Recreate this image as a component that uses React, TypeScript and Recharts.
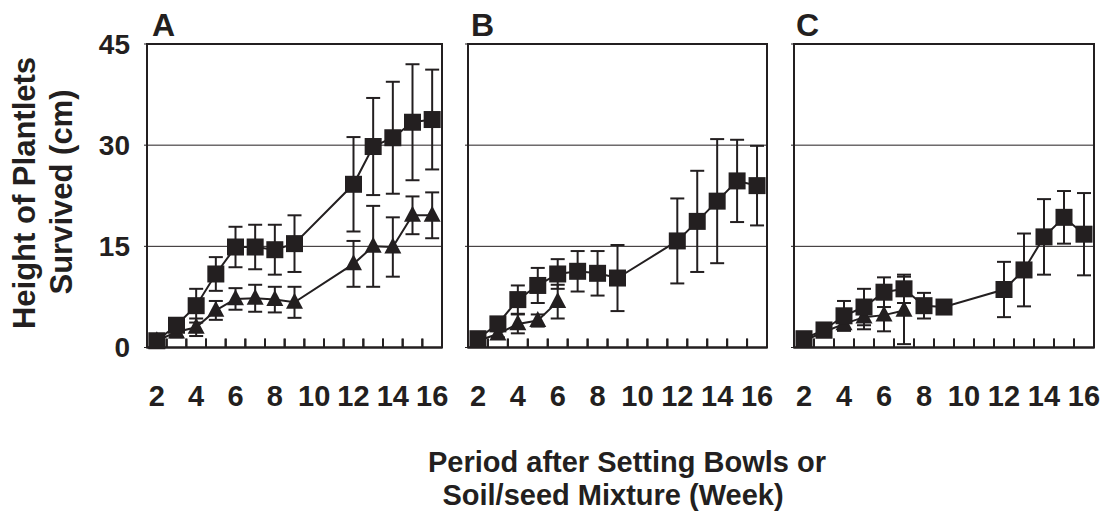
import React from 'react';
import { LineChart, Line, XAxis, YAxis, CartesianGrid, ErrorBar, ReferenceArea } from 'recharts';

const W = 1106;
const H = 513;
const INK = '#231f20';
const FONT = '"Liberation Sans", Arial, Helvetica, sans-serif';

// x categories (weeks) and ticks
const weeksSquare = [2, 3, 4, 5, 6, 7, 8, 9, 12, 13, 14, 15, 16];
const labelTicks = [2, 4, 6, 8, 10, 12, 14, 16];
const boundaryTicks = [2.5, 3.5, 4.5, 5.5, 6.5, 7.5, 8.5, 9.5, 10.5, 11.5, 12.5, 13.5, 14.5, 15.5];
const yTicks = [0, 15, 30, 45];
const X_DOMAIN: [number, number] = [1.5, 16.5];

// Panel A
const aSquare = [1.0, 3.3, 6.2, 10.9, 14.9, 14.9, 14.5, 15.4, 24.2, 29.8, 31.1, 33.4, 33.8];
const aSquareErr = [0.6, 0.8, 2.5, 2.5, 3.0, 3.3, 3.7, 4.2, 7.0, 7.2, 8.3, 8.6, 7.4];
const aTriWeeks = [2, 3, 4, 5, 6, 7, 8, 9, 12, 13, 14, 15, 16];
const aTri = [1.0, 2.3, 3.0, 5.5, 7.2, 7.3, 7.1, 6.7, 12.4, 15.0, 14.9, 19.6, 19.6];
const aTriErr = [0.5, 0.8, 1.3, 1.4, 1.6, 2.0, 1.9, 2.3, 3.4, 6.0, 4.4, 2.8, 3.4];

// Panel B
const bSquare = [1.3, 3.5, 7.1, 9.2, 10.9, 11.3, 11.0, 10.3, 15.8, 18.7, 21.7, 24.7, 24.0];
const bSquareErr = [0.5, 0.8, 2.1, 2.6, 2.2, 3.0, 3.3, 4.9, 6.3, 7.5, 9.2, 6.1, 5.9];
const bTriWeeks = [2, 3, 4, 5, 6];
const bTri = [1.0, 2.0, 3.5, 4.0, 6.8];
const bTriErr = [0.5, 0.5, 1.4, 0.9, 2.5];

// Panel C
const cSquare = [1.3, 2.6, 4.7, 6.0, 8.2, 8.7, 6.2, 6.0, 8.6, 11.5, 16.4, 19.3, 16.8];
const cSquareErr = [0.5, 0.6, 2.2, 2.7, 2.2, 2.1, 1.9, 0.5, 4.1, 5.4, 5.6, 3.9, 6.1];
const cTriWeeks = [2, 3, 4, 5, 6, 7];
const cTri = [1.0, 2.3, 3.5, 4.5, 4.8, 5.5];
const cTriErr = [0.4, 0.6, 1.0, 1.8, 2.4, 5.0];

// inward tick marks at band boundaries: from 0 up by about 8px (in y units)
const tickMarkData = boundaryTicks.map((t) => ({ week: t, v: 0, e: [0, 1.3] }));

const X_TICK_SIZE = 6;
const X_TICK_MARGIN = 32;
const INNER_TICK_PX = 9;

const renderSquare = (p: any) => {
  const { cx, cy, index } = p;
  if (cx == null || cy == null) return <g key={`s${index}`} />;
  const s = 17;
  return <rect key={`s${index}`} x={cx - s / 2} y={cy - s / 2} width={s} height={s} fill={INK} />;
};

const renderTriangle = (p: any) => {
  const { cx, cy, index } = p;
  if (cx == null || cy == null) return <g key={`t${index}`} />;
  const b = 17;
  const h = 16;
  const pts = `${cx},${cy - h * 0.6} ${cx - b / 2},${cy + h * 0.4} ${cx + b / 2},${cy + h * 0.4}`;
  return <polygon key={`t${index}`} points={pts} fill={INK} />;
};

// x tick: the even-week label, plus the inward tick marks of the band boundaries on either side
const XTick = (props: any) => {
  const { x, y, payload, width } = props;
  const v = Number(payload?.value);
  const axisY = y - X_TICK_SIZE - X_TICK_MARGIN;
  const pxPerWeek = typeof width === 'number' && width > 0 ? width / (X_DOMAIN[1] - X_DOMAIN[0]) : NaN;
  const marks: number[] = [];
  if (Number.isFinite(pxPerWeek)) {
    [v - 0.5, v + 0.5].forEach((b) => {
      if (boundaryTicks.includes(b)) marks.push(x + (b - v) * pxPerWeek);
    });
  }
  return (
    <g>
      {marks.map((mx, i) => (
        <line key={i} x1={mx} x2={mx} y1={axisY} y2={axisY - INNER_TICK_PX} stroke={INK} strokeWidth={2} />
      ))}
      <text x={x} y={y} dy="0.71em" textAnchor="middle" fill={INK} fontSize={29} fontWeight="bold" fontFamily={FONT}>
        {payload?.value}
      </text>
    </g>
  );
};

const emptyTick = () => <g />;

type PanelProps = {
  left: number;
  right: number;
  showY: boolean;
  sq: number[];
  sqErr: number[];
  triWeeks: number[];
  tri: number[];
  triErr: number[];
};

const PLOT_TOP = 44;
const PLOT_BOTTOM = 347.5;
const Y_AXIS_W = 60;
const X_AXIS_H = 1;

function Panel({ left, right, showY, sq, sqErr, triWeeks, tri, triErr }: PanelProps) {
  const sqData = weeksSquare.map((w, i) => ({ week: w, v: sq[i], e: sqErr[i] }));
  const triData = triWeeks.map((w, i) => ({ week: w, v: tri[i], e: triErr[i] }));
  return (
    <div style={{ position: 'absolute', left: 0, top: 0, width: W, height: H }}>
      <LineChart
        width={W}
        height={H}
        margin={{ top: PLOT_TOP, bottom: H - PLOT_BOTTOM - X_AXIS_H, left: left - Y_AXIS_W, right: W - right }}
      >
        <CartesianGrid vertical={false} stroke={INK} strokeWidth={1} xAxisId="lab" />
        <XAxis
          xAxisId="lab"
          type="number"
          dataKey="week"
          domain={X_DOMAIN}
          ticks={labelTicks}
          interval={0}
          height={X_AXIS_H}
          tickLine={false}
          axisLine={{ stroke: INK, strokeWidth: 2 }}
          tickSize={X_TICK_SIZE}
          tickMargin={X_TICK_MARGIN}
          tick={<XTick />}
        />
        <YAxis
          type="number"
          domain={[0, 45]}
          ticks={yTicks}
          interval={0}
          width={Y_AXIS_W}
          tickSize={3}
          tickMargin={14}
          tick={showY ? { fill: INK, fontSize: 28, fontWeight: 'bold', fontFamily: FONT } : emptyTick}
          axisLine={{ stroke: INK, strokeWidth: 2 }}
          tickLine={{ stroke: INK, strokeWidth: 1 }}
        />
        <ReferenceArea
          xAxisId="lab"
          x1={X_DOMAIN[0]}
          x2={X_DOMAIN[1]}
          y1={0}
          y2={45}
          fill="none"
          stroke={INK}
          strokeWidth={2}
          fillOpacity={0}
        />
        <Line
          xAxisId="lab"
          data={tickMarkData}
          dataKey="v"
          stroke="transparent"
          strokeWidth={0}
          dot={false}
          activeDot={false}
          legendType="none"
          isAnimationActive={false}
        >
          <ErrorBar dataKey="e" direction="y" width={0} stroke={INK} strokeWidth={2} />
        </Line>
        <Line
          xAxisId="lab"
          data={triData}
          dataKey="v"
          stroke={INK}
          strokeWidth={2}
          dot={renderTriangle}
          activeDot={false}
          isAnimationActive={false}
        >
          <ErrorBar dataKey="e" direction="y" width={7} stroke={INK} strokeWidth={2} />
        </Line>
        <Line
          xAxisId="lab"
          data={sqData}
          dataKey="v"
          stroke={INK}
          strokeWidth={2}
          dot={renderSquare}
          activeDot={false}
          isAnimationActive={false}
        >
          <ErrorBar dataKey="e" direction="y" width={7} stroke={INK} strokeWidth={2} />
        </Line>
      </LineChart>
    </div>
  );
}

export default function App() {
  return (
    <div style={{ position: 'absolute', left: 0, top: 0, width: W, height: H, background: '#fff', overflow: 'hidden' }}>
      <Panel left={147} right={442} showY sq={aSquare} sqErr={aSquareErr} triWeeks={aTriWeeks} tri={aTri} triErr={aTriErr} />
      <Panel left={468} right={767} showY={false} sq={bSquare} sqErr={bSquareErr} triWeeks={bTriWeeks} tri={bTri} triErr={bTriErr} />
      <Panel left={794} right={1094} showY={false} sq={cSquare} sqErr={cSquareErr} triWeeks={cTriWeeks} tri={cTri} triErr={cTriErr} />
      <svg width={W} height={H} style={{ position: 'absolute', left: 0, top: 0, pointerEvents: 'none' }}>
        <g fontFamily={FONT} fontWeight="bold" fill={INK}>
          <text x={152} y={36} fontSize={32}>A</text>
          <text x={471} y={36} fontSize={32}>B</text>
          <text x={796} y={36} fontSize={32}>C</text>
          <text x={35} y={193} fontSize={31} textAnchor="middle" transform="rotate(-90 35 193)">Height of Plantlets</text>
          <text x={72} y={192} fontSize={31} textAnchor="middle" transform="rotate(-90 72 192)">Survived (cm)</text>
          <text x={627} y={472} fontSize={29} textAnchor="middle">Period after Setting Bowls or</text>
          <text x={613} y={505} fontSize={29} textAnchor="middle">Soil/seed Mixture (Week)</text>
        </g>
      </svg>
    </div>
  );
}
